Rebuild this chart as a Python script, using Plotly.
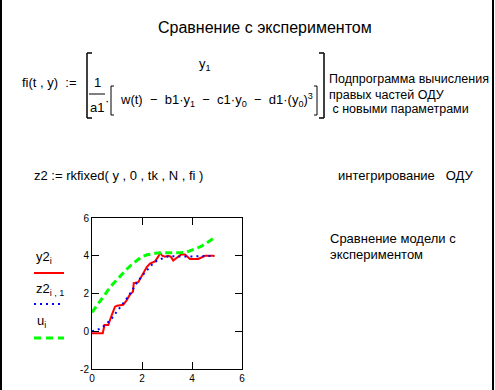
import plotly.graph_objects as go

# ---------------- data ----------------
# experiment y2 (red, solid)
y2_t = [0.0, 0.43, 0.5, 0.65, 0.79, 0.92, 1.0, 1.25, 1.39, 1.52, 1.64, 1.67, 1.85,
        2.05, 2.19, 2.32, 2.52, 2.65, 2.72, 2.81, 2.92, 3.05, 3.15, 3.25, 3.35,
        3.48, 3.56, 3.72, 3.85, 3.92, 4.25, 4.4, 4.52, 4.85, 4.9]
y2 = [-0.1, -0.1, 0.33, 0.33, 0.86, 1.3, 1.35, 1.4, 1.65, 1.95, 2.1, 2.55, 2.6,
      3.05, 3.4, 3.58, 3.7, 3.95, 4.15, 4.0, 3.95, 4.0, 3.95, 3.75, 3.85,
      4.02, 4.07, 4.07, 3.92, 3.83, 3.83, 3.92, 4.0, 4.0, 3.97]

# model z2 (blue, dotted)
z2_t = [0.0, 0.2, 0.4, 0.6, 0.8, 1.0, 1.2, 1.4, 1.6, 1.8, 2.0, 2.2, 2.4, 2.6,
        2.8, 3.0, 3.2, 3.4, 3.6, 3.8, 4.0, 4.2, 4.4, 4.6, 4.8, 4.9]
z2 = [0.0, 0.06, 0.2, 0.42, 0.7, 1.05, 1.38, 1.75, 2.15, 2.58, 2.93, 3.25, 3.53,
      3.75, 3.86, 3.95, 3.97, 3.98, 3.97, 3.96, 3.96, 3.97, 3.98, 3.99, 4.0, 4.0]

# input u (green, dashed)
u_t = [0.0, 0.2, 0.4, 0.6, 0.8, 1.0, 1.2, 1.4, 1.6, 1.8, 2.0, 2.2, 2.4, 2.6,
       2.8, 3.0, 3.2, 3.4, 3.6, 3.8, 4.0, 4.2, 4.4, 4.6, 4.8, 4.9]
u = [1.0, 1.38, 1.75, 2.1, 2.45, 2.75, 3.05, 3.3, 3.55, 3.75, 3.95, 4.05, 4.12,
     4.15, 4.15, 4.15, 4.15, 4.15, 4.17, 4.2, 4.28, 4.4, 4.52, 4.68, 4.85, 4.95]

x_ticks = [0, 2, 4, 6]
y_ticks = [-2, 0, 2, 4, 6]

# ---------------- layout helpers ----------------
W, H = 495, 390
L, R, T, B = 92, 242, 218, 369


def px(x):
    return (x - L) / (R - L)


def py(y):
    return (B - y) / (B - T)


FONT = "Liberation Sans, Arial, sans-serif"

fig = go.Figure()
fig.add_trace(go.Scatter(x=y2_t, y=y2, mode="lines",
                         line=dict(color="#ff0000", width=2), hoverinfo="skip"))
fig.add_trace(go.Scatter(x=z2_t, y=z2, mode="lines",
                         line=dict(color="#0000ff", width=2, dash="2px,4px"),
                         hoverinfo="skip"))
fig.add_trace(go.Scatter(x=u_t, y=u, mode="lines",
                         line=dict(color="#00ff00", width=3, dash="7px,4px"),
                         hoverinfo="skip"))

ann = []


def text(x, y, s, size=13, xa="left", ya="middle"):
    ann.append(dict(x=px(x), y=py(y), xref="paper", yref="paper", text=s,
                    showarrow=False, xanchor=xa, yanchor=ya,
                    font=dict(family=FONT, size=size, color="black")))


text(265, 28, "Сравнение с экспериментом", size=16, xa="center")
text(20, 82, "fi(t , y)  :=")
text(205, 64, "y<sub>1</sub>", xa="center")
text(97, 82, "1", xa="center")
text(97, 107, "a1", xa="center")
text(103, 100, "·")
text(118, 100, "w(t)  −  b1·y<sub>1</sub>  −  c1·y<sub>0</sub>  −  d1·(y<sub>0</sub>)<sup>3</sup>")
text(327, 79, "Подпрограмма вычисления", size=12.5)
text(327, 95, "правых частей ОДУ", size=12.5)
text(327, 109, " с новыми параметрами", size=12.5)
text(32, 175, "z2 := rkfixed( y , 0 , tk , N , fi )")
text(336, 175, "интегрирование   ОДУ")
text(328, 238, "Сравнение модели с")
text(328, 254, "экспериментом")
text(34, 257, "y2<sub>i</sub>")
text(34, 289, "z2<sub>i , 1</sub>")
text(35, 321, "u<sub>i</sub>")

shapes = []


def line(x0, y0, x1, y1, color="black", width=1.5, dash=None):
    d = dict(type="line", xref="paper", yref="paper",
             x0=px(x0), y0=py(y0), x1=px(x1), y1=py(y1),
             line=dict(color=color, width=width))
    if dash:
        d["line"]["dash"] = dash
    shapes.append(d)


# big matrix brackets
line(87, 53, 87, 118)
line(87, 53, 92, 53)
line(87, 118, 92, 118)
line(324, 53, 324, 118)
line(319, 53, 324, 53)
line(319, 118, 324, 118)
# fraction bar
line(89, 94, 105, 94, width=1)
# inner square brackets
line(111, 86, 111, 115, width=1)
line(111, 86, 114, 86, width=1)
line(111, 115, 114, 115, width=1)
line(317, 86, 317, 115, width=1)
line(314, 86, 317, 86, width=1)
line(314, 115, 317, 115, width=1)
# legend samples
line(34, 273, 64, 273, color="#ff0000", width=2)
line(34, 304, 62, 304, color="#0000ff", width=2, dash="2px,4px")
line(34, 338, 64, 338, color="#00ff00", width=3, dash="7px,5px")
# page border (left and right)
line(1, 0, 1, 390, width=2)
line(493, 0, 493, 390, width=2)

axis_common = dict(showgrid=False, zeroline=False, showline=True,
                   linecolor="black", linewidth=1, mirror="ticks",
                   ticks="inside", ticklen=7, tickwidth=1, tickcolor="black",
                   automargin=False,
                   tickfont=dict(family=FONT, size=10, color="black"))

fig.update_layout(
    width=W, height=H,
    margin=dict(l=L, r=W - R, t=T, b=H - B, pad=0, autoexpand=False),
    paper_bgcolor="white", plot_bgcolor="white",
    showlegend=False,
    xaxis=dict(range=[0, 6], tickvals=x_ticks, ticktext=[str(v) for v in x_ticks],
               **axis_common),
    yaxis=dict(range=[-2, 6], tickvals=y_ticks, ticktext=[str(v) for v in y_ticks],
               **axis_common),
    annotations=ann, shapes=shapes,
)

fig.write_html("out.html", config={"displayModeBar": False, "staticPlot": True},
               post_script="document.body.style.margin='0';")
